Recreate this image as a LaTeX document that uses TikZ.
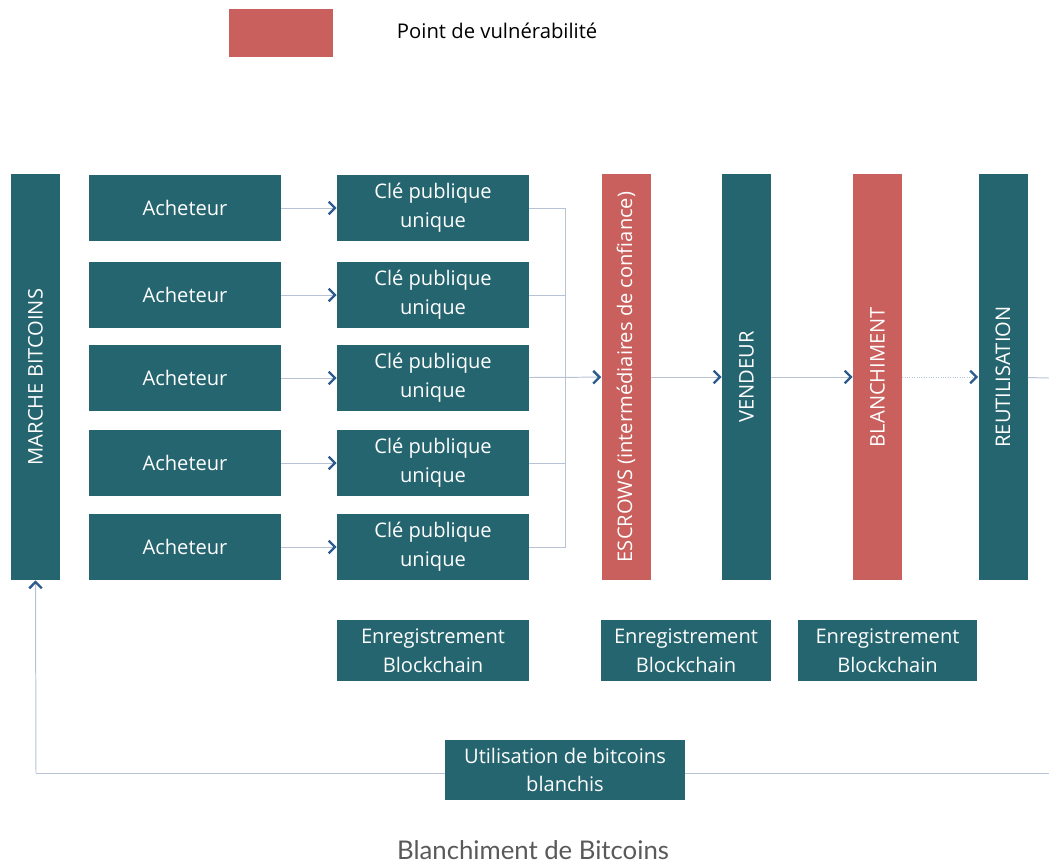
\documentclass[tikz,border=0pt]{standalone}
\usepackage{fontspec}
\setmainfont{Open Sans}
\newfontfamily\capfont{Lato}
\usetikzlibrary{arrows.meta}

\definecolor{blocteal}{HTML}{25656F}
\definecolor{blocred}{HTML}{C9605D}
\definecolor{linegray}{HTML}{B7C3D5}
\definecolor{tipblue}{HTML}{2C5C8D}

\begin{document}
\begin{tikzpicture}[
	x=0.025cm, y=-0.025cm,
	bloc/.style={ fill=blocteal, text=white, inner sep=0pt, align=center, font=\fontsize{14.3}{20.5}\selectfont },
	blocbox/.style={ bloc, minimum width=4.8cm, minimum height=1.65cm },
	bar/.style={ bloc, minimum width=1.225cm, minimum height=10.15cm },
	redbar/.style={ bar, fill=blocred },
	every label/.style={ text=white, font=\fontsize{14.3}{20.5}\selectfont },
	link/.style={ draw=linegray, line width=0.7pt },
	fleche/.style={ link, -{Straight Barb[length=4.5pt,width=9pt,line width=1.7pt,color=tipblue]} }
]

\useasboundingbox (0,0) rectangle (1049,863);

% legende
\node at (281,33) (leg) [fill=blocred, minimum width=2.6cm, minimum height=1.2cm] {};
\node at (392,31) (legtext) [anchor=west, font=\fontsize{14.4}{17}\selectfont] {Point de vulnérabilité};

% colonnes verticales
\node at (35.5,377) (marche) [bar,label={[rotate=90]center:MARCHE BITCOINS}] {};
\node at (626,377) (escrow) [redbar,label={[rotate=90]center:ESCROWS (intermédiaires de confiance)}] {};
\node at (746.5,377) (vendeur) [bar,label={[rotate=90]center:VENDEUR}] {};
\node at (877.5,377) (blanch) [redbar,label={[rotate=90]center:BLANCHIMENT}] {};
\node at (1003,377) (reutil) [bar,label={[rotate=90]center:REUTILISATION}] {};

% acheteurs et cles
\node at (185,208) (ach1) [blocbox] {Acheteur};
\node at (185,295) (ach2) [blocbox] {Acheteur};
\node at (185,378) (ach3) [blocbox] {Acheteur};
\node at (185,463) (ach4) [blocbox] {Acheteur};
\node at (185,547) (ach5) [blocbox] {Acheteur};
\node at (433,208) (cle1) [blocbox] {Clé publique\\unique};
\node at (433,295) (cle2) [blocbox] {Clé publique\\unique};
\node at (433,378) (cle3) [blocbox] {Clé publique\\unique};
\node at (433,463) (cle4) [blocbox] {Clé publique\\unique};
\node at (433,547) (cle5) [blocbox] {Clé publique\\unique};
\draw[fleche] (ach1) -- (cle1);
\draw[fleche] (ach2) -- (cle2);
\draw[fleche] (ach3) -- (cle3);
\draw[fleche] (ach4) -- (cle4);
\draw[fleche] (ach5) -- (cle5);

% regroupement vers escrow
\coordinate (jn) at (565,378);
\draw[link] (cle1.east) -| (jn);
\draw[link] (cle2.east) -| (jn);
\draw[link] (cle4.east) -| (jn);
\draw[link] (cle5.east) -| (jn);
\draw[fleche] (cle3) -- (escrow);
\draw[fleche] (escrow) -- (vendeur);
\draw[fleche] (vendeur) -- (blanch);
\draw[fleche,densely dotted] (blanch) -- (reutil);
\coordinate (rout) at (1049,378);
\draw[link] (reutil) -- (rout);

% enregistrements
\node at (433,650.5) (enr1) [bloc, minimum width=4.8cm, minimum height=1.525cm] {Enregistrement\\Blockchain};
\node at (686,650.5) (enr2) [bloc, minimum width=4.25cm, minimum height=1.525cm] {Enregistrement\\Blockchain};
\node at (887.5,650.5) (enr3) [bloc, minimum width=4.475cm, minimum height=1.525cm] {Enregistrement\\Blockchain};

% boucle de retour
\coordinate (rin) at (1049,773);
\coordinate (coin) at (36,773);
\draw[link] (rin) -- (coin);
\draw[fleche] (coin) -- (marche.south);
\node at (565,770) (util) [bloc, minimum width=6cm, minimum height=1.5cm] {Utilisation de bitcoins\\blanchis};

\node at (533,850) (titre) [text=black!65, font=\capfont\fontsize{18.3}{22}\selectfont] {Blanchiment de Bitcoins};

\end{tikzpicture}
\end{document}
